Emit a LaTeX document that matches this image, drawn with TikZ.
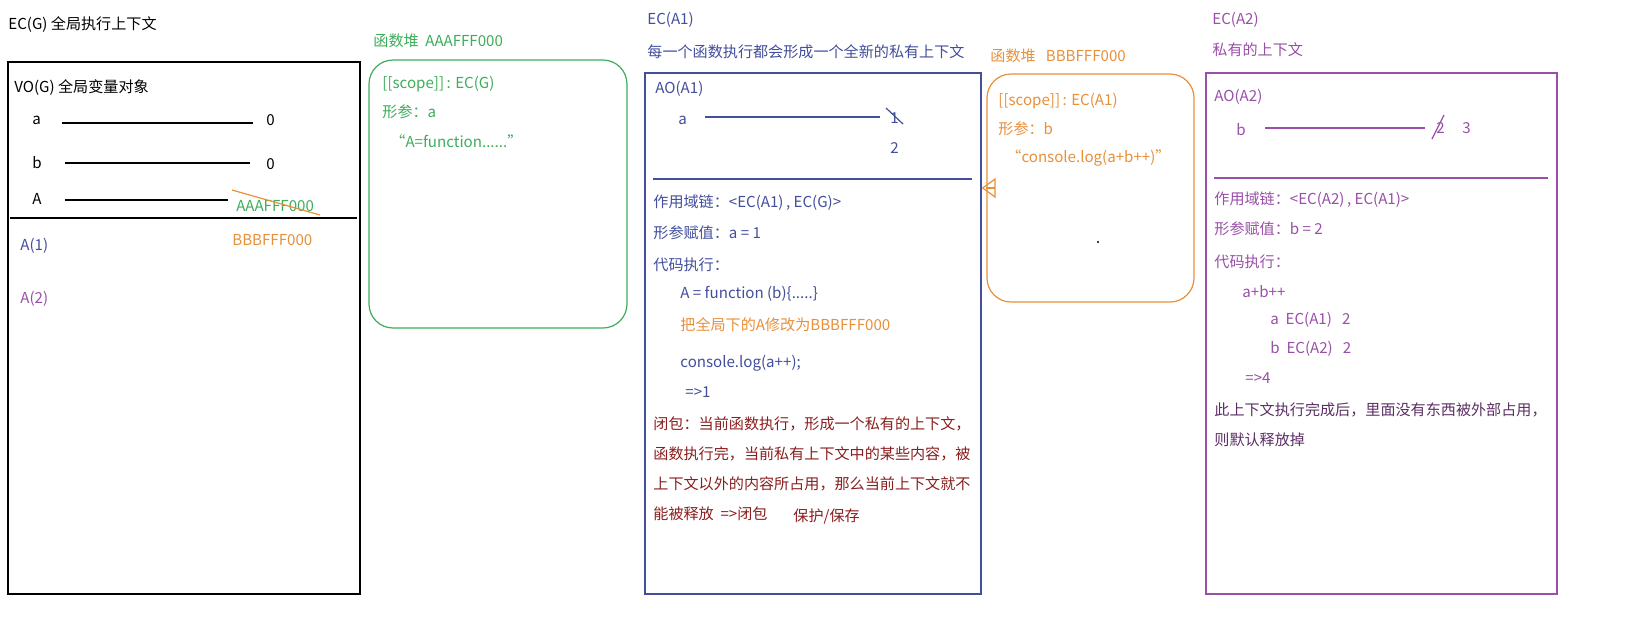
\documentclass[tikz,border=0pt]{standalone}
\usepackage{fontspec}
\setmainfont{Noto Sans CJK SC}
\usetikzlibrary{arrows.meta}
\definecolor{cblue}{HTML}{434E9C}
\definecolor{cgreen}{HTML}{3DAE5A}
\definecolor{corange}{HTML}{E8903A}
\definecolor{cpurple}{HTML}{9A4FA8}
\definecolor{cred}{HTML}{8B1E1E}
\tikzset{
 t/.style={anchor=west,inner sep=0pt,font=\fontsize{7.55}{9}\selectfont},
 frame/.style={draw,line width=0.6pt},
 rframe/.style={draw,line width=0.6pt,rounded corners=12pt},
 ln/.style={line width=0.6pt}
}
\begin{document}
\begin{tikzpicture}[x=0.5pt,y=-0.5pt]
\useasboundingbox[fill=white] (0,0) rectangle (1646,639);
% EC(G)
\node[t] (ecg) at (8,25) {EC(G) 全局执行上下文};
\node[frame,minimum width=176pt,minimum height=266pt,inner sep=0pt] (boxg) at (184,328) {};
\node[t] (vog) at (14,88) {VO(G) 全局变量对象};
\node[t] (va) at (32,120) {a};
\node[t] (va0) at (266,120) {0};
\draw[ln] (62,123) -- (253,123);
\node[t] (vb) at (32,163) {b};
\node[t] (vb0) at (266,164) {0};
\draw[ln] (65,163) -- (250,163);
\node[t] (vA) at (32,199) {A};
\draw[ln] (65,200) -- (228,200);
\node[t,text=cgreen] (vAaddr) at (236,206) {AAAFFF000};
\draw[ln,corange] (232,190) -- (320,215);
\draw[ln] (10,218) -- (357,218);
\node[t,text=corange] (vBaddr) at (232,240) {BBBFFF000};
\node[t,text=cblue] (a1) at (20,246) {A(1)};
\node[t,text=cpurple] (a2) at (20,299) {A(2)};
% heap AAAFFF000
\node[t,text=cgreen] (heapA) at (373,41) {函数堆\ \ AAAFFF000};
\node[rframe,cgreen,minimum width=129pt,minimum height=134pt,inner sep=0pt] (hA) at (498,194) {};
\node[t,text=cgreen] (hA1) at (382,84) {[[scope]]\,: EC(G)};
\node[t,text=cgreen] (hA2) at (382,112) {形参：a};
\node[t,text=cgreen] (hA3) at (390,141) {“A=function......”};
% EC(A1)
\node[t,text=cblue] (eca1) at (647,20) {EC(A1)};
\node[t,text=cblue] (eca1s) at (647,52) {每一个函数执行都会形成一个全新的私有上下文};
\node[frame,cblue,minimum width=168pt,minimum height=260.5pt,inner sep=0pt] (boxa1) at (813,333.5) {};
\node[t,text=cblue] (ao1) at (655,89) {AO(A1)};
\node[t,text=cblue] (ao1a) at (678,120) {a};
\draw[ln,cblue] (705,117) -- (880,117);
\node[t,text=cblue] (ao1v1) at (890,118) {1};
\draw[ln,cblue] (886,108) -- (903,124);
\node[t,text=cblue] (ao1v2) at (890,148) {2};
\draw[ln,cblue] (653,179) -- (972,179);
\node[t,text=cblue] (sc1) at (653,203) {作用域链：<EC(A1)\,, EC(G)>};
\node[t,text=cblue] (fp1) at (653,233) {形参赋值：a = 1};
\node[t,text=cblue] (ce1) at (653,265) {代码执行：};
\node[t,text=cblue] (c11) at (680,294) {A = function (b)\{.....\}};
\node[t,text=corange] (c12) at (680,325) {把全局下的A修改为BBBFFF000};
\node[t,text=cblue] (c13) at (680,363) {console.log(a++);};
\node[t,text=cblue] (c14) at (685,392) {=>1};
\node[t,text=cred] (cl1) at (653,424) {闭包：当前函数执行，形成一个私有的上下文，};
\node[t,text=cred] (cl2) at (653,454) {函数执行完，当前私有上下文中的某些内容，被};
\node[t,text=cred] (cl3) at (653,484) {上下文以外的内容所占用，那么当前上下文就不};
\node[t,text=cred] (cl4) at (653,514) {能被释放\ \ =>闭包};
\node[t,text=cred] (cl5) at (793,516) {保护/保存};
% heap BBBFFF000
\node[t,text=corange] (heapB) at (990,56) {函数堆\ \ \ BBBFFF000};
\node[rframe,corange,minimum width=103.5pt,minimum height=114pt,inner sep=0pt] (hB) at (1090.5,188) {};
\node[t,text=corange] (hB1) at (998,101) {[[scope]]\,: EC(A1)};
\node[t,text=corange] (hB2) at (998,129) {形参：b};
\node[t,text=corange] (hB3) at (1006,158) {“console.log(a+b++)”};
\fill (1098,242) circle (1.2);
\draw[corange,line width=0.6pt,-{Triangle[open,length=7pt,width=10pt]}] (hB.west) -- (boxa1.east |- hB.west);
% EC(A2)
\node[t,text=cpurple] (eca2) at (1212,20) {EC(A2)};
\node[t,text=cpurple] (eca2s) at (1212,50) {私有的上下文};
\node[frame,cpurple,minimum width=175.5pt,minimum height=260.5pt,inner sep=0pt] (boxa2) at (1381.5,333.5) {};
\node[t,text=cpurple] (ao2) at (1214,97) {AO(A2)};
\node[t,text=cpurple] (ao2b) at (1236,130) {b};
\draw[ln,cpurple] (1265,128) -- (1425,128);
\node[t,text=cpurple] (ao2v2) at (1436,128) {2};
\draw[ln,cpurple] (1432,139) -- (1444,115);
\node[t,text=cpurple] (ao2v3) at (1462,128) {3};
\draw[ln,cpurple] (1214,178) -- (1548,178);
\node[t,text=cpurple] (sc2) at (1214,200) {作用域链：<EC(A2)\,, EC(A1)>};
\node[t,text=cpurple] (fp2) at (1214,229) {形参赋值：b = 2};
\node[t,text=cpurple] (ce2) at (1214,262) {代码执行：};
\node[t,text=cpurple] (c21) at (1242,292) {a+b++};
\node[t,text=cpurple] (c22) at (1270,320) {a\ \ EC(A1)\ \ \ 2};
\node[t,text=cpurple] (c23) at (1270,349) {b\ \ EC(A2)\ \ \ 2};
\node[t,text=cpurple] (c24) at (1245,378) {=>4};
\node[t,text=cpurple!60!black] (r1) at (1214,410) {此上下文执行完成后，里面没有东西被外部占用，};
\node[t,text=cpurple!60!black] (r2) at (1214,440) {则默认释放掉};
\end{tikzpicture}
\end{document}
